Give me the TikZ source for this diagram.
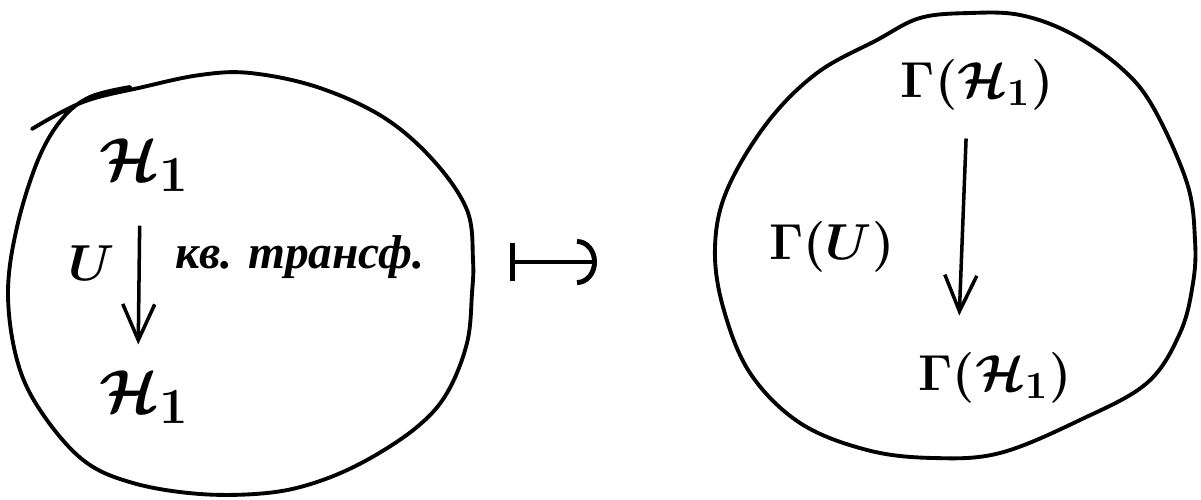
\documentclass[tikz,border=0pt]{standalone}
\usepackage{amsmath,amssymb}
\usepackage{fontspec}
\newfontfamily\cyrfont{Liberation Serif}
\usetikzlibrary{arrows.meta}

\begin{document}
\begin{tikzpicture}[x=1cm,y=1cm,
    blob/.style={line width=1.1pt,line cap=round},
    obj/.style={font=\fontsize{19}{23}\selectfont\boldmath,inner sep=1pt},
    fun/.style={font=\fontsize{15.5}{19}\selectfont\boldmath,inner sep=1pt},
    darrow/.style={line width=1pt,-{Straight Barb[length=3.6mm,width=3.2mm,line width=1pt]}}]
    \useasboundingbox (0,0) rectangle (12.01,4.99);
    % left blob
    \draw[blob] plot[smooth,tension=0.6] coordinates {
      (0.32,3.70) (0.83,3.97) (1.43,4.12) (2.00,4.24) (2.50,4.26)
      (3.17,4.12) (3.83,3.82) (4.33,3.39) (4.67,2.89) (4.73,2.39)
      (4.72,2.06) (4.67,1.56) (4.47,1.06) (4.17,0.72) (3.67,0.39)
      (3.17,0.17) (2.67,0.06) (2.00,0.05) (1.33,0.16) (0.83,0.39)
      (0.40,0.89) (0.17,1.39) (0.08,2.06) (0.17,2.72) (0.38,3.39)
      (0.62,3.80) (0.90,4.02) (1.30,4.12)};
    % right blob
    \draw[blob] plot[smooth cycle,tension=0.6] coordinates {
      (9.70,4.86) (10.20,4.84) (10.70,4.66) (11.20,4.32) (11.53,3.92)
      (11.87,3.16) (11.95,2.59) (11.93,2.16) (11.80,1.66) (11.47,1.16)
      (10.80,0.79) (10.00,0.46) (9.33,0.41) (8.67,0.49) (8.00,0.76)
      (7.50,1.26) (7.23,1.92) (7.15,2.52) (7.27,3.09) (7.67,3.76)
      (8.17,4.26) (8.77,4.59) (9.20,4.81)};
    % left side
    \node[obj] (H1a) at (1.45,3.34) {$\mathcal{H}_1$};
    \node[obj] (H1b) at (1.45,1.02) {$\mathcal{H}_1$};
    \draw[darrow,shorten <=0.3cm,shorten >=0.22cm]
      ([xshift=-0.5mm]H1a.south) -- ([xshift=-0.7mm]H1b.north);
    \node[fun] (U) at (0.92,2.36) {$U$};
    \node[font=\cyrfont\bfseries\itshape\fontsize{13.5}{16}\selectfont] (kv) at (3.00,2.42) {кв. трансф.};
    % maps-to
    \coordinate (mapL) at (5.10,2.37);
    \coordinate (mapR) at (5.97,2.37);
    \draw[line width=1.4pt,{Bar[width=3.8mm]}-{Arc Barb[length=2mm,width=4.6mm]}] (mapL) -- (mapR);
    % right side
    \node[fun] (GHa) at (9.77,4.14) {$\Gamma(\mathcal{H}_1)$};
    \node[fun] (GHb) at (9.95,1.21) {$\Gamma(\mathcal{H}_1)$};
    \node[fun] (GU) at (8.32,2.52) {$\Gamma(U)$};
    \draw[darrow,shorten <=0.24cm,shorten >=0.33cm]
      ([xshift=-1mm]GHa.south) -- ([xshift=-3.7mm]GHb.north);
\end{tikzpicture}
\end{document}
